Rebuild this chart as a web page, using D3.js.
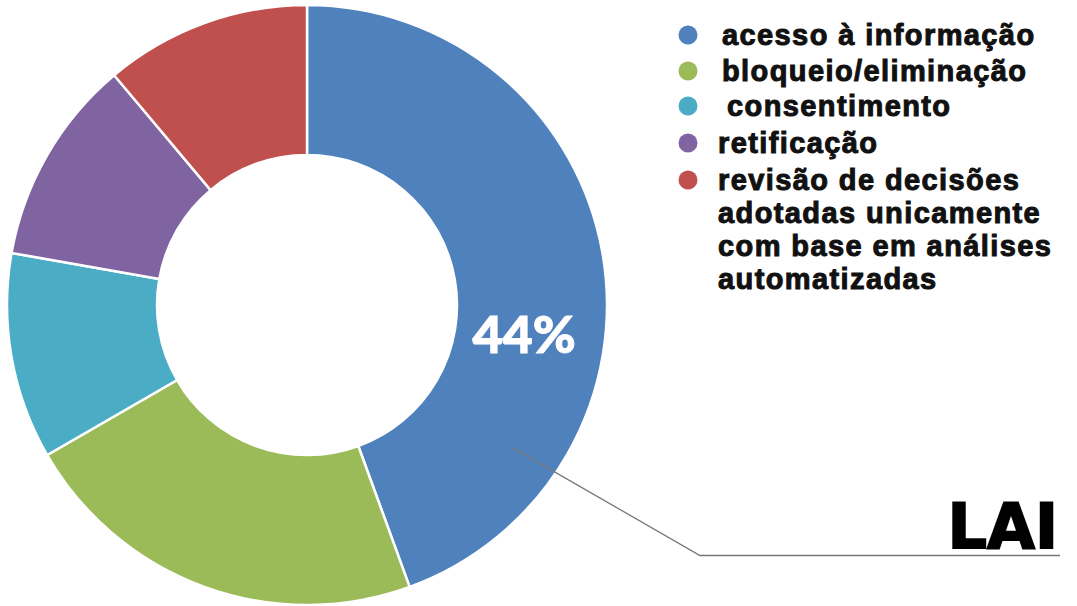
<!DOCTYPE html>
<html><head><meta charset="utf-8">
<script src="https://cdn.jsdelivr.net/npm/d3@7"></script>
<style>html,body{margin:0;padding:0;background:#fff;}svg{display:block;}</style>
</head><body>
<svg id="chart" width="1077" height="606"></svg>
<script>
const categories = ["acesso à informação","bloqueio/eliminação","consentimento","retificação","revisão de decisões adotadas unicamente com base em análises automatizadas"];
const values = [4, 2, 1, 1, 1];
const colors = ["#4F81BD","#9BBB59","#4BACC6","#8064A2","#C0504D"];
const legendLines = [["acesso à informação"],["bloqueio/eliminação"],["consentimento"],["retificação"],["revisão de decisões","adotadas unicamente","com base em análises","automatizadas"]];
const mainLabel = "LAI";

const svg = d3.select("#chart");
const cx = 307, cy = 305, rOuter = 300, rInner = 150;
const color = d3.scaleOrdinal().domain(categories).range(colors);
const pie = d3.pie().sort(null).value(d => d.v);
const data = pie(categories.map((c,i)=>({c, v: values[i]})));
const arc = d3.arc().innerRadius(rInner).outerRadius(rOuter);
const g = svg.append("g").attr("transform", `translate(${cx},${cy})`);
g.selectAll("path").data(data).join("path")
  .attr("d", arc).attr("fill", d => color(d.data.c))
  .attr("stroke", "#fff").attr("stroke-width", 2.5);

const total = d3.sum(values);
const fmt = d3.format(".0%");
const first = data[0];
const labAng = first.startAngle + (first.endAngle - first.startAngle) * 0.61;
const labR = 219;
g.append("text")
  .attr("x", labR * Math.sin(labAng)).attr("y", -labR * Math.cos(labAng))
  .attr("text-anchor","middle").attr("dy","0.36em")
  .attr("font-family","Lato, 'Open Sans', sans-serif").attr("font-weight","900")
  .attr("font-size", 52).attr("fill","#fff")
  .attr("stroke","#fff").attr("stroke-width",1)
  .text(fmt(first.value / total));

// leader line
const lAng = first.startAngle + (first.endAngle - first.startAngle) * 0.78;
const lR = 249;
const p0 = [cx + lR*Math.sin(lAng), cy - lR*Math.cos(lAng)];
svg.append("path")
  .attr("d", d3.line()([p0, [700, 555.5], [1060, 555.5]]))
  .attr("fill","none").attr("stroke","#777").attr("stroke-width",1.3);
svg.append("text").attr("x", 1058).attr("y", 548).attr("text-anchor","end")
  .attr("font-family","'DejaVu Sans', sans-serif").attr("font-weight","bold")
  .attr("font-size", 62).attr("fill","#000").attr("stroke","#000").attr("stroke-width",1.8)
  .attr("letter-spacing","0")
  .text(mainLabel);

// legend
const legY = [35, 71, 106, 143, 180];
const legX = [722, 722, 727, 718, 718];
const lineGap = 33;
const lg = svg.append("g");
categories.forEach((c,i) => {
  lg.append("circle").attr("cx", 688).attr("cy", legY[i]).attr("r", 9.5).attr("fill", color(c));
  legendLines[i].forEach((ln, j) => {
    lg.append("text").attr("x", legX[i]).attr("y", legY[i] + j * lineGap).attr("dy","0.36em")
      .attr("font-family","'Liberation Sans', Arial, sans-serif").attr("font-weight","bold")
      .attr("font-size", 29).attr("letter-spacing", 1.4)
      .attr("fill","#111").attr("stroke","#111").attr("stroke-width",1)
      .text(ln);
  });
});
</script>
</body></html>
